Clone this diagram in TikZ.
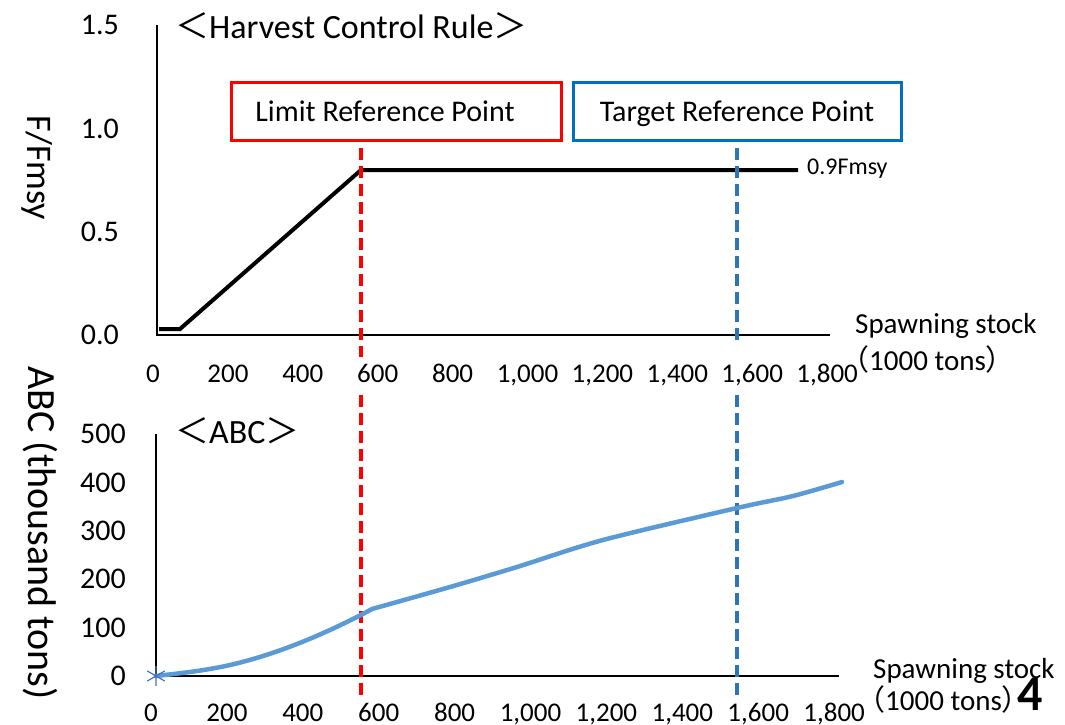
\documentclass[tikz,border=0pt]{standalone}
\usepackage{fontspec}
\setmainfont{Carlito}
\newfontfamily\cjkfont{Noto Sans CJK JP}
\usetikzlibrary{plotmarks}
\definecolor{abcblue}{RGB}{91,155,213}
\definecolor{targetblue}{RGB}{46,117,182}
\definecolor{boxblue}{RGB}{0,112,192}
\definecolor{markblue}{RGB}{68,114,196}
\tikzset{>=latex}

\begin{document}
\begin{tikzpicture}[x=1pt, y=-1pt]
	\tikzstyle{tick} = [inner sep=0pt, font=\fontsize{27}{30}\selectfont]
	\tikzstyle{vtick} = [inner sep=0pt, anchor=east, font=\fontsize{30}{32}\selectfont]
	\tikzstyle{axisname} = [inner sep=0pt, anchor=base west, font=\fontsize{29}{32}\selectfont]
	\tikzstyle{charttitle} = [inner sep=0pt, anchor=base west, font=\fontsize{34}{38}\selectfont]
	\tikzstyle{axis} = [line width=2pt]
	\tikzstyle{hcr} = [line width=4pt]
	\tikzstyle{abc} = [line width=4.5pt, color=abcblue, line cap=round]
	\tikzstyle{limitline} = [line width=4pt, color=red, dash pattern=on 12pt off 6pt]
	\tikzstyle{targetline} = [line width=4pt, color=targetblue, dash pattern=on 12pt off 6pt]
	\tikzstyle{refbox} = [line width=3pt, minimum height=58pt, inner sep=0pt, text height=21pt, text depth=0pt, font=\fontsize{30}{32}\selectfont]

	\useasboundingbox (0,0) rectangle (1065,725);

%----------upper chart: harvest control rule------------------
	\coordinate (o1) at (157,335);
	\coordinate (y1) at (157,25);
	\coordinate (x1) at (830,335);
	\draw[axis] (y1)--(o1)--(x1);

	\foreach \lab [count=\i from 0] in {0.0,0.5,1.0,1.5}
		\node[vtick] (fy\i) at (119,335-103.3*\i) {\lab};
	\foreach \lab [count=\i from 0] in {0,200,400,600,800,{1,000},{1,200},{1,400},{1,600},{1,800}}
		\node[tick, anchor=base] (sx\i) at (153+74.9*\i,382) {\lab};

	\node[charttitle] (hcrtitle) at (175,38) {{\cjkfont ＜}Harvest Control Rule{\cjkfont ＞}};
	\node[rotate=-90, inner sep=0pt, font=\fontsize{36}{40}\selectfont] (fname) at (37,168) {F/Fmsy};
	\node[axisname] (sname1) at (855,333) {Spawning stock};
	\node[axisname] (tname1) at (840,370) {{\cjkfont （}1000 tons{\cjkfont ）}};

	\coordinate (h0) at (159,329);
	\coordinate (h1) at (180,329);
	\coordinate (blim) at (361,170);
	\coordinate (h2) at (798,170);
	\draw[hcr] (h0)--(h1)--(blim)--(h2);
	\node[inner sep=0pt, anchor=west, font=\fontsize{24}{26}\selectfont] (fmsy) at (807,169) {0.9Fmsy};

	\node[refbox, draw=red, minimum width=330pt] (lrp) at (396,111) {Limit Reference Point\hspace*{22pt}};
	\node[refbox, draw=boxblue, minimum width=328pt] (trp) at (737,111) {Target Reference Point};

	\draw[limitline] (361,148)--(361,357);
	\draw[targetline] (737,148)--(737,345);

%----------lower chart: ABC------------------------------------
	\coordinate (o2) at (156,676);
	\coordinate (y2) at (156,434);
	\coordinate (x2) at (839,676);
	\draw[axis] (y2)--(o2)--(x2);

	\foreach \lab [count=\i from 0] in {0,100,200,300,400,500}
		\node[vtick] (ay\i) at (126,676-48.4*\i) {\lab};
	\foreach \lab [count=\i from 0] in {0,200,400,600,800,{1,000},{1,200},{1,400},{1,600},{1,800}}
		\node[tick, anchor=base] (bx\i) at (151+75.9*\i,721) {\lab};

	\node[charttitle] (abctitle) at (175,443) {{\cjkfont ＜}ABC{\cjkfont ＞}};
	\node[rotate=-90, inner sep=0pt, font=\fontsize{40}{44}\selectfont] (aname) at (40,533) {ABC (thousand tons)};
	\node[axisname] (sname2) at (873,678) {Spawning stock};
	\node[axisname] (tname2) at (856,710) {{\cjkfont （}1000 tons{\cjkfont ）}\hspace*{-13pt}{\fontsize{50}{50}\selectfont\bfseries 4}};

	\draw[limitline] (361,395)--(361,700);
	\draw[targetline] (737,395)--(737,700);

	\draw[abc] plot[smooth, tension=0.6] coordinates {(156,676) (197,671) (230,665) (263,656) (297,644) (330,630) (361,615)}
		-- (372,609) plot[smooth, tension=0.5] coordinates {(372,609) (450,587) (517,567) (603,540) (737,508) (793,496) (842,482)};
	\draw[markblue, line width=1.2pt] plot[mark=asterisk, mark size=10pt] coordinates {(o2)};

\end{tikzpicture}
\end{document}
